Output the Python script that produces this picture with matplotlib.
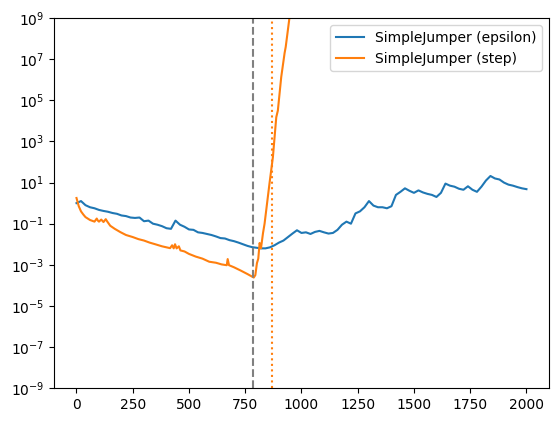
import matplotlib
matplotlib.use("Agg")
import matplotlib.pyplot as plt
import numpy as np
from matplotlib.ticker import NullLocator

# values (x = step, y = log10 of the value)
eps_x = list(range(0, 2001, 20))
eps_logy = [0.0, 0.1, -0.1, -0.2, -0.25, -0.33, -0.38, -0.42, -0.48, -0.52,
            -0.6, -0.63, -0.7, -0.72, -0.7, -0.88, -0.85, -1.0, -1.05, -1.12,
            -1.22, -1.25, -0.85, -1.05, -1.15, -1.28, -1.3, -1.42, -1.45, -1.5,
            -1.55, -1.62, -1.7, -1.72, -1.8, -1.85, -1.92, -2.0, -2.08, -2.14,
            -2.17, -2.2, -2.2, -2.15, -2.05, -1.92, -1.82, -1.65, -1.48, -1.32,
            -1.45, -1.42, -1.5, -1.4, -1.35, -1.42, -1.48, -1.45, -1.3, -1.05,
            -0.9, -1.0, -0.5, -0.4, -0.2, 0.1, -0.12, -0.2, -0.2, -0.25,
            -0.15, 0.4, 0.55, 0.72, 0.6, 0.5, 0.62, 0.52, 0.45, 0.4,
            0.3, 0.5, 0.95, 0.85, 0.8, 0.7, 0.65, 0.82, 0.65, 0.55,
            0.8, 1.1, 1.32, 1.2, 1.15, 1.0, 0.9, 0.85, 0.78, 0.72,
            0.68]

step_x = [0, 5, 10, 20, 30, 40, 60, 80, 90, 95, 100, 110, 120, 130, 137, 150, 170, 195, 220,
          250, 275, 300, 325, 350, 380, 416, 425, 432, 438, 445, 455, 462, 480, 500, 530, 560,
          590, 620, 645, 668, 672, 678, 700, 730, 760, 788, 795, 802, 808, 814, 820, 829, 836,
          858, 873, 888, 895, 910, 925, 930, 947, 955]
step_logy = [0.25, 0.05, -0.15, -0.4, -0.55, -0.68, -0.82, -0.9, -0.75, -0.85, -0.9, -0.8,
             -0.92, -0.78, -0.9, -1.1, -1.25, -1.41, -1.55, -1.65, -1.75, -1.82, -1.92, -2.0,
             -2.1, -2.19, -2.05, -2.2, -2.0, -2.2, -2.1, -2.3, -2.35, -2.47, -2.6, -2.7, -2.85,
             -2.9, -2.98, -3.02, -2.72, -3.02, -3.12, -3.28, -3.45, -3.62, -3.5, -2.92, -2.7,
             -1.94, -2.2, -1.46, -1.0, 0.97, 2.24, 4.18, 4.5, 6.13, 7.3, 7.6, 9.05, 9.6]

eps_label = "SimpleJumper (epsilon)"
step_label = "SimpleJumper (step)"
x_dashed = 784
x_dotted = 871

fig, ax = plt.subplots(figsize=(5.59, 4.21), dpi=100)
fig.subplots_adjust(left=0.0966, right=0.982, top=0.957, bottom=0.078)

ax.plot(eps_x, np.power(10.0, eps_logy), label=eps_label)
ax.plot(step_x, np.power(10.0, step_logy), label=step_label)
ax.axvline(x_dashed, color="gray", linestyle="--")
ax.axvline(x_dotted, color="C1", linestyle=":")

ax.set_yscale("log")
ax.set_ylim(1e-9, 1e9)
ax.set_xlim(-100, 2100)
ax.set_yticks([10.0 ** k for k in range(-9, 10, 2)])
ax.yaxis.set_minor_locator(NullLocator())
ax.set_xticks([0, 250, 500, 750, 1000, 1250, 1500, 1750, 2000])
ax.legend(loc="upper right")

fig.savefig("out.png", dpi=100)
